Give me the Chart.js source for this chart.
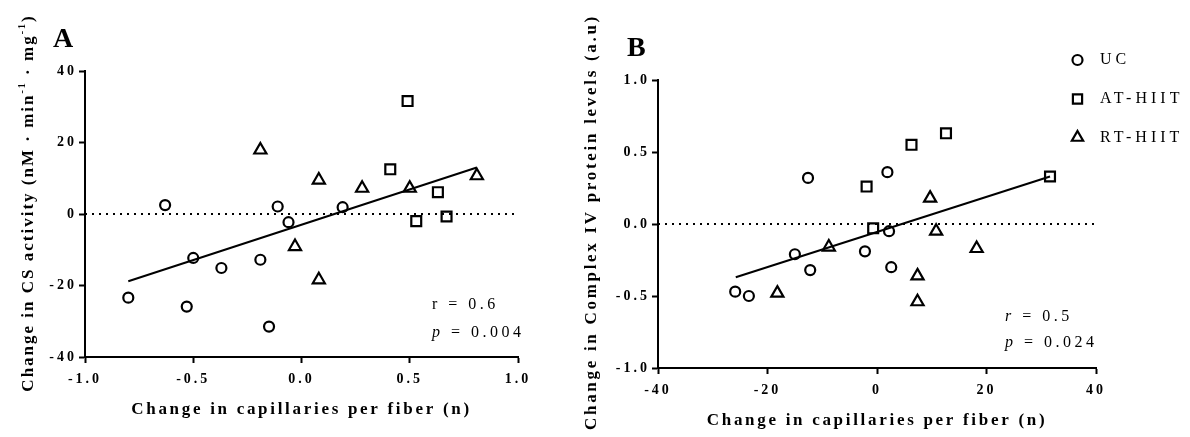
<!DOCTYPE html>
<html><head><meta charset="utf-8">
<script src="https://cdn.jsdelivr.net/npm/chart.js@4.4.1/dist/chart.umd.min.js"></script>
<style>
html,body{margin:0;padding:0;background:#fff;}
#wrap{position:relative;width:1190px;height:437px;overflow:hidden;background:#fff;}
canvas{position:absolute;top:0;}
#cA{left:0;} #cB{left:560px;}
</style></head><body>
<div id="wrap"><canvas id="cA" width="560" height="437"></canvas><canvas id="cB" width="630" height="437"></canvas></div>
<script>
// ---------- Panel A: CS activity vs capillaries ----------
const ucA_x = [-0.80, -0.63, -0.53, -0.50, -0.37, -0.19, -0.15, -0.11, -0.06, 0.19];
const ucA_y = [-23.4, 2.5, -25.9, -12.3, -15.1, -12.8, -31.5, 2.1, -2.3, 1.9];
const atA_x = [0.49, 0.41, 0.63, 0.53, 0.67];
const atA_y = [31.6, 12.5, 6.1, -2.0, -0.7];
const rtA_x = [-0.19, 0.08, 0.28, 0.50, -0.03, 0.08, 0.81];
const rtA_y = [17.9, 9.5, 7.2, 7.2, -9.1, -18.4, 10.7];
const fitA_x = [-0.80, 0.81];
const fitA_y = [-18.8, 13.0];
const zeroA_x = [-1, 1];
const xTicksA = [-1, -0.5, 0, 0.5, 1];
const xLabelsA = ['-1.0', '-0.5', '0.0', '0.5', '1.0'];
const yTicksA = [-40, -20, 0, 20, 40];
const yLabelsA = ['-40', '-20', '0', '20', '40'];

// ---------- Panel B: Complex IV vs capillaries ----------
const ucB_x = [-25.9, -23.4, -15.0, -12.2, -12.6, -2.2, 1.9, 2.2, 2.6];
const ucB_y = [-0.47, -0.50, -0.21, -0.32, 0.32, -0.19, 0.36, -0.05, -0.30];
const atB_x = [-1.9, -0.7, 6.3, 12.6, 31.6];
const atB_y = [0.26, -0.03, 0.55, 0.63, 0.33];
const rtB_x = [-18.2, -8.8, 9.7, 10.8, 18.2, 7.4, 7.4];
const rtB_y = [-0.48, -0.16, 0.18, -0.05, -0.17, -0.36, -0.54];
const fitB_x = [-25.8, 31.6];
const fitB_y = [-0.37, 0.33];
const zeroB_x = [-40, 40];
const xTicksB = [-40, -20, 0, 20, 40];
const xLabelsB = ['-40', '-20', '0', '20', '40'];
const yTicksB = [-1, -0.5, 0, 0.5, 1];
const yLabelsB = ['-1.0', '-0.5', '0.0', '0.5', '1.0'];

const groupNames = ['UC', 'AT-HIIT', 'RT-HIIT'];

const SERIF = '"Liberation Serif", "Times New Roman", Times, serif';
const zip = (xs, ys) => xs.map((x, i) => ({x: x, y: ys[i]}));

function pointSet(label, xs, ys, style, r) {
  return {
    label: label, data: zip(xs, ys), pointStyle: style, pointRadius: r, pointHoverRadius: r,
    pointBorderWidth: 2.2, pointBorderColor: '#000', pointBackgroundColor: 'rgba(0,0,0,0)',
    borderColor: '#000', backgroundColor: 'rgba(0,0,0,0)', showLine: false
  };
}
function lineSet(xs, ys, dash) {
  return {
    label: '', data: zip(xs, ys), showLine: true, pointRadius: 0, pointHoverRadius: 0,
    borderColor: '#000', borderWidth: 2, borderDash: dash || [], fill: false
  };
}

function spacedWidth(ctx, segs, sp) {
  let w = 0;
  segs.forEach(s => { ctx.font = s.font; ctx.letterSpacing = sp + 'px'; w += ctx.measureText(s.t).width; });
  return w;
}
function drawRich(ctx, segs, x, y, sp, align, rot) {
  ctx.save();
  ctx.translate(x, y);
  if (rot) ctx.rotate(rot);
  ctx.fillStyle = '#000';
  ctx.textBaseline = 'middle';
  ctx.textAlign = 'left';
  const total = spacedWidth(ctx, segs, sp);
  let cx = align === 'center' ? -total / 2 : (align === 'right' ? -total : 0);
  segs.forEach(s => {
    ctx.font = s.font; ctx.letterSpacing = sp + 'px';
    ctx.fillText(s.t, cx, s.dy || 0);
    cx += ctx.measureText(s.t).width;
  });
  ctx.restore();
}
function marker(ctx, style, x, y, r) {
  ctx.save();
  ctx.strokeStyle = '#000'; ctx.lineWidth = 2.2;
  ctx.beginPath();
  if (style === 'circle') ctx.arc(x, y, r, 0, Math.PI * 2);
  else if (style === 'rect') { const s = r * Math.SQRT1_2; ctx.rect(x - s, y - s, 2 * s, 2 * s); }
  else {
    let a = 0;
    for (let i = 0; i < 3; i++) { const px = x + Math.sin(a) * r, py = y - Math.cos(a) * r; if (i) ctx.lineTo(px, py); else ctx.moveTo(px, py); a += 2 * Math.PI / 3; }
    ctx.closePath();
  }
  ctx.stroke();
  ctx.restore();
}

function makeScales(xT, xL, yT, yL, xMin, xMax, yMin, yMax, yW, xH) {
  const tickFont = {family: SERIF, size: 14, weight: 'bold'};
  const grid = {display: true, drawOnChartArea: false, drawTicks: true, tickLength: 6, tickWidth: 2, tickColor: '#000'};
  const border = {display: true, color: '#000', width: 2};
  return {
    x: {
      type: 'linear', min: xMin, max: xMax,
      afterBuildTicks: s => { s.ticks = xT.map(v => ({value: v})); },
      afterFit: s => { s.height = xH; },
      ticks: {callback: (v, i) => xL[i], font: tickFont, color: '#000', padding: 8, maxRotation: 0, autoSkip: false},
      grid: grid, border: border, title: {display: false}
    },
    y: {
      type: 'linear', min: yMin, max: yMax,
      afterBuildTicks: s => { s.ticks = yT.map(v => ({value: v})); },
      afterFit: s => { s.width = yW; },
      ticks: {callback: (v, i) => yL[i], font: tickFont, color: '#000', padding: 2, autoSkip: false},
      grid: grid, border: border, title: {display: false}
    }
  };
}

const spacingPlugin = {
  id: 'spacing',
  beforeDraw(chart) { chart.ctx.letterSpacing = '3px'; },
  afterDraw(chart) { chart.ctx.letterSpacing = '0px'; }
};

const TITLE = 'bold 17px ' + SERIF;
const SUP = 'bold 10px ' + SERIF;
const REG = '16px ' + SERIF;
const ITA = 'italic 16px ' + SERIF;

const decoA = {
  id: 'decoA',
  afterDraw(chart) {
    const ctx = chart.ctx;
    const ca = chart.chartArea;
    drawRich(ctx, [{t: 'A', font: 'bold 28px ' + SERIF}], 53, 40, 0, 'left');
    drawRich(ctx, [{t: 'Change in capillaries per fiber (n)', font: TITLE}], (ca.left + ca.right) / 2, 410, 2.7, 'center');
    drawRich(ctx, [
      {t: 'Change in CS activity (nM \u00B7 min', font: TITLE},
      {t: '-1', font: SUP, dy: -7},
      {t: ' \u00B7 mg', font: TITLE},
      {t: '-1', font: SUP, dy: -7},
      {t: ')', font: TITLE}
    ], 29, 203, 2.0, 'center', -Math.PI / 2);
    drawRich(ctx, [{t: 'r = 0.6', font: REG}], 432, 305, 3.5, 'left');
    drawRich(ctx, [{t: 'p', font: ITA}, {t: ' = 0.004', font: REG}], 432, 333, 3.5, 'left');
  }
};

const decoB = {
  id: 'decoB',
  afterDraw(chart) {
    const ctx = chart.ctx;
    const ca = chart.chartArea;
    drawRich(ctx, [{t: 'B', font: 'bold 28px ' + SERIF}], 67, 49, 0, 'left');
    drawRich(ctx, [{t: 'Change in capillaries per fiber (n)', font: TITLE}], (ca.left + ca.right) / 2, 421, 2.7, 'center');
    drawRich(ctx, [{t: 'Change in Complex IV protein levels (a.u)', font: TITLE}], 32, 222, 2.7, 'center', -Math.PI / 2);
    drawRich(ctx, [{t: 'r', font: ITA}, {t: ' = 0.5', font: REG}], 445, 317, 3.5, 'left');
    drawRich(ctx, [{t: 'p', font: ITA}, {t: ' = 0.024', font: REG}], 445, 343, 3.5, 'left');
    const styles = ['circle', 'rect', 'triangle'];
    const radii = [5, 6.5, 6.5];
    const ys = [60, 99, 137.5];
    groupNames.forEach((n, i) => {
      marker(ctx, styles[i], 517.5, ys[i], radii[i]);
      drawRich(ctx, [{t: n, font: REG}], 540, ys[i], 4, 'left');
    });
  }
};

const common = {
  responsive: false, animation: false, devicePixelRatio: 1, events: [],
  plugins: {legend: {display: false}, tooltip: {enabled: false}}
};

new Chart(document.getElementById('cA'), {
  type: 'scatter',
  data: {datasets: [
    pointSet('UC', ucA_x, ucA_y, 'circle', 5),
    pointSet('AT-HIIT', atA_x, atA_y, 'rect', 7),
    pointSet('RT-HIIT', rtA_x, rtA_y, 'triangle', 7),
    lineSet(fitA_x, fitA_y),
    lineSet(zeroA_x, [0, 0], [2, 5])
  ]},
  options: Object.assign({}, common, {
    layout: {padding: {left: 0, right: 42, top: 71, bottom: 0}},
    scales: makeScales(xTicksA, xLabelsA, yTicksA, yLabelsA, -1, 1, -40, 40, 85, 80)
  }),
  plugins: [spacingPlugin, decoA]
});

new Chart(document.getElementById('cB'), {
  type: 'scatter',
  data: {datasets: [
    pointSet('UC', ucB_x, ucB_y, 'circle', 5),
    pointSet('AT-HIIT', atB_x, atB_y, 'rect', 7),
    pointSet('RT-HIIT', rtB_x, rtB_y, 'triangle', 7),
    lineSet(fitB_x, fitB_y),
    lineSet(zeroB_x, [0, 0], [2, 5])
  ]},
  options: Object.assign({}, common, {
    layout: {padding: {left: 0, right: 94, top: 80, bottom: 0}},
    scales: makeScales(xTicksB, xLabelsB, yTicksB, yLabelsB, -40, 40, -1, 1, 98, 69)
  }),
  plugins: [spacingPlugin, decoB]
});
</script>
</body></html>
